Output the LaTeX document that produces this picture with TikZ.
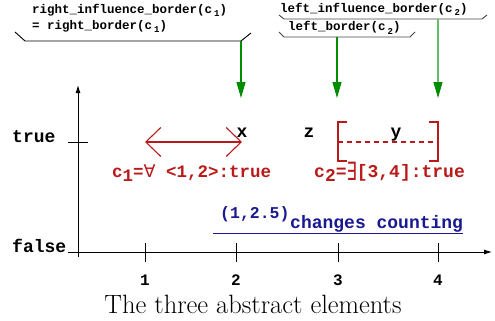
\documentclass[tikz,border=0pt]{standalone}
\usepackage{fontspec}
\usepackage{graphicx}
\setmonofont{Liberation Mono}
\newfontfamily\symf{DejaVu Sans}
\usetikzlibrary{arrows.meta}
\definecolor{cred}{RGB}{185,25,25}
\definecolor{cblue}{RGB}{25,25,145}
\definecolor{gdark}{RGB}{0,140,0}
\definecolor{glight}{RGB}{100,190,100}
\definecolor{bgray}{RGB}{70,70,70}
\newcommand\lsub[1]{\hspace{2pt}\raisebox{-3pt}{\fontsize{9}{9}\selectfont #1}}
\begin{document}
\begin{tikzpicture}[x=1pt,y=-1pt,
  mono/.style={font={\ttfamily\bfseries\fontsize{#1}{#1}\selectfont}, inner sep=0pt},
  brk/.style={line width=0.9pt, draw=#1},
  grn/.style={line width=1.2pt, draw=#1, -{Triangle[length=16pt,width=9pt,color=gdark,fill=gdark]}},
  axisline/.style={line width=0.9pt, draw=black},
  rbr/.style={line width=1.1pt, draw=cred},
  redarr/.style={line width=1.1pt, draw=cred, {Straight Barb[length=15pt,width=29pt]}-{Straight Barb[length=15pt,width=29pt]}},
]
\useasboundingbox (0,0) rectangle (495,321);

% top labels
\node[mono=12.5, anchor=base west] (ril) at (32,14) {right\_influence\_border(c\lsub{1})};
\node[mono=12.5, anchor=base west] (rbl) at (32,30) {= right\_border(c\lsub{1})};
\node[mono=12.5, anchor=base west] (lil) at (280,13) {left\_influence\_border(c\lsub{2})};
\node[mono=12.5, anchor=base west] (lbl) at (288,31) {left\_border(c\lsub{2})};

% brackets
\coordinate (b1a) at (15,32); \coordinate (b1b) at (25,41);
\coordinate (b1c) at (241,41); \coordinate (b1d) at (251,33);
\draw[brk=black] (b1a) -- (b1b) -- (b1c) -- (b1d);
\coordinate (b2a) at (279,15); \coordinate (b2b) at (284,19);
\coordinate (b2c) at (482,19); \coordinate (b2d) at (487,15);
\draw[brk=bgray] (b2a) -- (b2b) -- (b2c) -- (b2d);
\coordinate (b3a) at (279,32); \coordinate (b3b) at (284,37);
\coordinate (b3c) at (410,37); \coordinate (b3d) at (415,32);
\draw[brk=bgray] (b3a) -- (b3b) -- (b3c) -- (b3d);

% green arrows
\coordinate (g2) at (337,37); \coordinate (g3) at (438,19);
\coordinate (t1) at (241,98); \coordinate (t2) at (337,98); \coordinate (t3) at (438,98);
\draw[grn=gdark] (b1c) -- (t1);
\draw[grn=gdark] (g2) -- (t2);
\draw[grn=glight] (g3) -- (t3);

% axes
\coordinate (yb) at (78,257); \coordinate (yt) at (78,85);
\draw[axisline, -{Latex[length=8pt,width=5pt]}] (yb) -- (yt);
\coordinate (xl) at (68,252); \coordinate (xr) at (492,252);
\draw[axisline, -{Latex[length=8pt,width=5pt]}] (xl) -- (xr);
\coordinate (tt1) at (68,142); \coordinate (tt2) at (88,142);
\draw[axisline] (tt1) -- (tt2);
\foreach \xx/\lab in {145/1,236/2,338/3,438/4}{
  \coordinate (k\lab a) at (\xx,243); \coordinate (k\lab b) at (\xx,262);
  \draw[axisline] (k\lab a) -- (k\lab b);
  \node[mono=16, anchor=base] (n\lab) at (\xx,285) {\lab};
}
\node[mono=18, anchor=base west] (tl) at (12,142) {true};
\node[mono=18, anchor=base west] (fl) at (12,252) {false};

% points
\node[mono=18, anchor=base] (px) at (242,137) {x};
\node[mono=18, anchor=base] (pz) at (309,137) {z};
\node[mono=18, anchor=base] (py) at (396,137) {y};

% c1 interval
\coordinate (ra) at (145,142); \coordinate (rz) at (242,142);
\draw[redarr] (ra) -- (rz);
\node[mono=17.5, text=cred, anchor=base west] (c1) at (112,177)
  {c\raisebox{-4pt}{1}={\symf\mdseries ∀} <1,2>:true};

% c2 bracket
\coordinate (l1) at (347,122); \coordinate (l2) at (338,122);
\coordinate (l3) at (338,161); \coordinate (l4) at (347,161);
\draw[rbr] (l1) -- (l2) -- (l3) -- (l4);
\coordinate (r1) at (429,122); \coordinate (r2) at (438,122);
\coordinate (r3) at (438,161); \coordinate (r4) at (429,161);
\draw[rbr] (r1) -- (r2) -- (r3) -- (r4);
\coordinate (d1) at (338,142); \coordinate (d2) at (438,142);
\draw[rbr, dash pattern=on 5pt off 4pt] (d1) -- (d2);
\node[mono=18, text=cred, anchor=base west] (c2) at (314,177)
  {c\raisebox{-4pt}{2}=\raisebox{-3pt}{\scalebox{0.9}[1.4]{\symf\mdseries ∃}}[3,4]:true};

% counting
\node[mono=16.5, text=cblue, anchor=base west] (cp) at (220,218) {(1,2.5)};
\node[mono=18, text=cblue, anchor=base west] (cc) at (290,228) {changes counting};
\coordinate (u1) at (213,233); \coordinate (u2) at (463,233);
\draw[line width=1pt, cblue] (u1) -- (u2);

% caption
\node[font=\fontsize{26.5}{30}\selectfont, anchor=base, inner sep=0pt] (cap) at (253,313) {The three abstract elements};
\end{tikzpicture}
\end{document}
